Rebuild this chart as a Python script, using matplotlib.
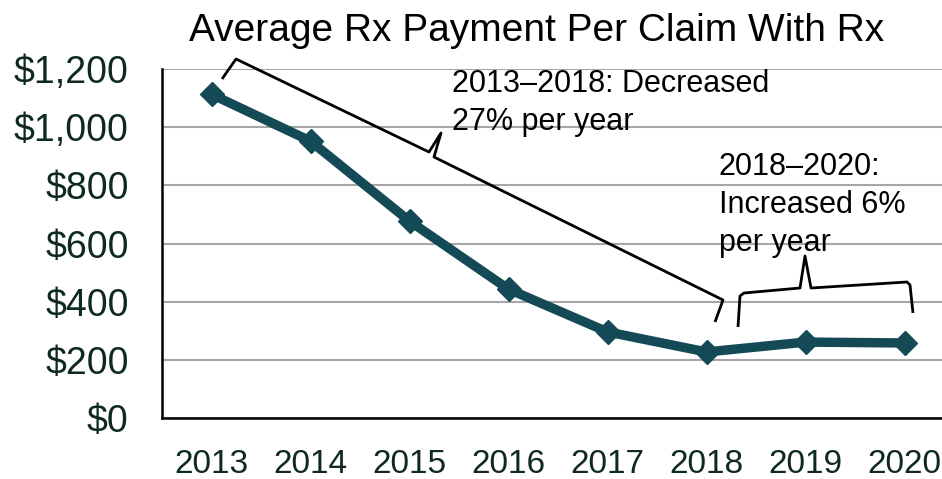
import matplotlib
matplotlib.use("Agg")
import matplotlib.pyplot as plt
from matplotlib.path import Path
import matplotlib.patches as mpatches

years = ["2013", "2014", "2015", "2016", "2017", "2018", "2019", "2020"]
payment = [1113, 952, 677, 443, 296, 227, 261, 258]
yticks = [0, 200, 400, 600, 800, 1000, 1200]
ytick_labels = ["$0", "$200", "$400", "$600", "$800", "$1,000", "$1,200"]
title = "Average Rx Payment Per Claim With Rx"
note1 = ["2013\u20132018: Decreased", "27% per year"]
note2 = ["2018\u20132020:", "Increased 6%", "per year"]

W, H = 942, 479
FONT = "Liberation Sans"
fig = plt.figure(figsize=(W / 100, H / 100), dpi=100)
ax = fig.add_axes([162 / W, (H - 418) / H, 792 / W, (418 - 69) / H])

line_color = "#134a55"
tick_color = "#0e2a1f"
x = list(range(len(years)))
ax.plot(x, payment, color=line_color, lw=6.8, marker="D", markersize=12.5,
        solid_joinstyle="miter", zorder=3, clip_on=False)

ax.set_xlim(-0.5, len(years) - 0.5)
ax.set_ylim(0, 1200)
ax.set_yticks(yticks)
ax.set_yticklabels(ytick_labels, fontsize=27, color=tick_color, family=FONT)
ax.set_xticks(x)
ax.set_xticklabels(years, fontsize=24, color=tick_color, family=FONT)
ax.tick_params(axis="y", length=0, pad=24)
ax.tick_params(axis="x", length=0, pad=22)
ax.grid(axis="y", color="#a6a6a6", lw=1.5)
ax.set_axisbelow(True)
for s in ["top", "right"]:
    ax.spines[s].set_visible(False)
for s in ["left", "bottom"]:
    ax.spines[s].set_color("black")
    ax.spines[s].set_linewidth(1.8)

fig.text(537 / W, 1 - 41 / H, title, ha="center", va="baseline", fontsize=28,
         family=FONT, color="black")

for i, t in enumerate(note1):
    fig.text(452 / W, 1 - (92 + 38 * i) / H, t, ha="left", va="baseline",
             fontsize=22, family=FONT, color="black")
for i, t in enumerate(note2):
    fig.text(719 / W, 1 - (175 + 38 * i) / H, t, ha="left", va="baseline",
             fontsize=22, family=FONT, color="black")

def px(pts):
    return [(a / W, 1 - b / H) for a, b in pts]

brace1 = [(222, 79), (236, 59), (429, 152), (441, 133), (434, 157), (723, 300), (715, 322)]
brace2 = [(738, 327), (740, 296), (744, 293), (800, 288), (805, 256), (811, 288), (907, 282), (910, 285), (913, 313)]
for pts in (brace1, brace2):
    p = px(pts)
    path = Path(p, [Path.MOVETO] + [Path.LINETO] * (len(p) - 1))
    fig.add_artist(mpatches.PathPatch(path, fill=False, lw=2.0, color="black",
                                      transform=fig.transFigure, joinstyle="round"))

fig.savefig("out.png", dpi=100)
